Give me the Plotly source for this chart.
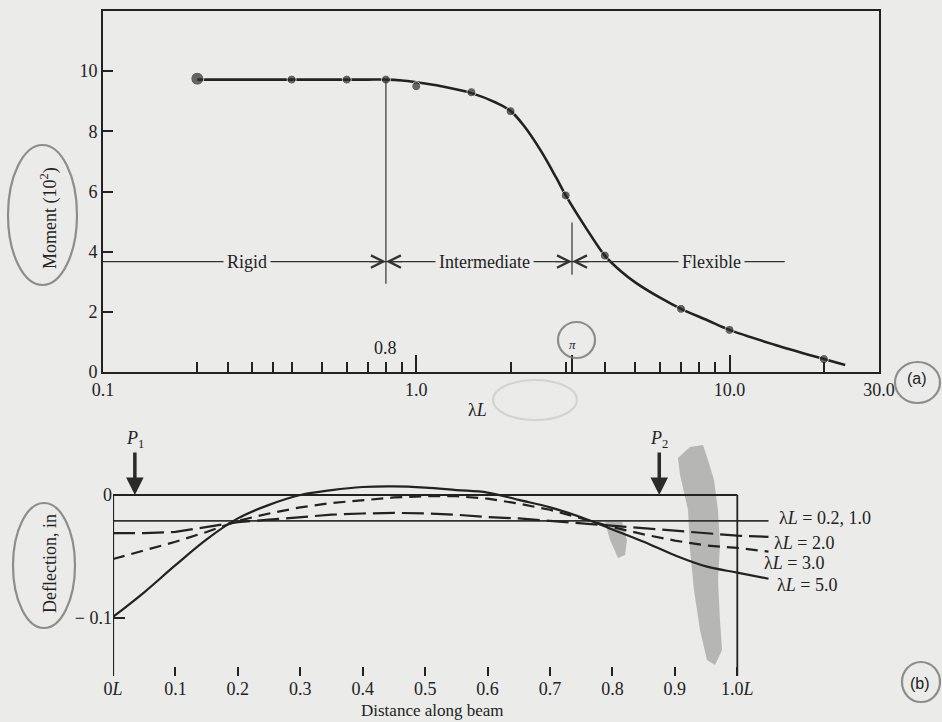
import numpy as np
import plotly.graph_objects as go

# ---------------- data: panel (a) ----------------
curve_lambdaL = [0.2, 0.3, 0.4, 0.5, 0.6, 0.7, 0.8, 0.9, 1.0, 1.2, 1.5, 1.8, 2.0, 2.2, 2.5,
                 2.8, 3.0, 3.5, 4.0, 4.5, 5.0, 6.0, 7.0, 8.5, 10.0, 14.0, 20.0, 23.4]
curve_moment = [9.72, 9.72, 9.72, 9.72, 9.72, 9.72, 9.72, 9.69, 9.63, 9.5, 9.27, 8.95, 8.68, 8.2, 7.35,
                6.45, 5.87, 4.75, 3.87, 3.35, 2.98, 2.47, 2.1, 1.72, 1.4, 0.9, 0.43, 0.23]
point_lambdaL = [0.2, 0.4, 0.6, 0.8, 1.0, 1.5, 2.0, 3.0, 4.0, 7.0, 10.0, 20.0]
point_moment = [9.75, 9.72, 9.72, 9.72, 9.5, 9.3, 8.67, 5.87, 3.87, 2.1, 1.4, 0.43]
zone_names = ["Rigid", "Intermediate", "Flexible"]
zone_label_x = [0.288, 1.65, 8.75]
zone_bounds = [0.8, np.pi]
zone_line_level = 3.67
zone_line_ends = [0.1, 15.0]
bound_top = [9.72, 4.97]
bound_bottom = [2.93, 3.23]
top_major_ticks = [0.1, 1.0, np.pi, 10.0, 30.0]
top_major_text = ["0.1", "1.0", "", "10.0", "30.0"]
top_minor_ticks = [0.2, 0.25, 0.3, 0.35, 0.4, 0.5, 0.6, 0.7, 0.8, 0.9,
                   2, 3, 4, 5, 6, 7, 8, 9, 20]
moment_ticks = [0, 2, 4, 6, 8, 10]

# ---------------- data: panel (b) ----------------
beam_x = [0, 0.05, 0.1, 0.15, 0.2, 0.25, 0.3, 0.35, 0.4, 0.45, 0.5, 0.55,
          0.6, 0.65, 0.7, 0.75, 0.8, 0.85, 0.9, 0.95, 1.0, 1.05]
defl_02_10 = [-0.021] * 22
defl_20 = [-0.031, -0.031, -0.030, -0.026, -0.022, -0.020, -0.018, -0.016, -0.015, -0.0145, -0.015, -0.016,
           -0.018, -0.019, -0.021, -0.023, -0.025, -0.027, -0.029, -0.031, -0.033, -0.034]
defl_30 = [-0.052, -0.045, -0.038, -0.030, -0.021, -0.015, -0.010, -0.0065, -0.004, -0.002, -0.001, -0.001,
           -0.003, -0.007, -0.012, -0.019, -0.026, -0.032, -0.037, -0.041, -0.043, -0.046]
defl_50 = [-0.099, -0.079, -0.057, -0.036, -0.019, -0.008, 0.0, 0.004, 0.0065, 0.007, 0.006, 0.004,
           0.002, -0.004, -0.010, -0.018, -0.028, -0.038, -0.049, -0.058, -0.063, -0.068]
series_labels = ["λ<i>L</i> = 0.2, 1.0", "λ<i>L</i> = 2.0", "λ<i>L</i> = 3.0", "λ<i>L</i> = 5.0"]
beam_ticks = [0, 0.1, 0.2, 0.3, 0.4, 0.5, 0.6, 0.7, 0.8, 0.9, 1.0]
beam_tick_text = ["0<i>L</i>", "0.1", "0.2", "0.3", "0.4", "0.5", "0.6", "0.7", "0.8", "0.9", "1.0<i>L</i>"]
defl_ticks = [0, -0.1]
defl_tick_text = ["0", "− 0.1"]
load_pos = [0.035, 0.875]
load_names = ["<i>P</i><sub>1</sub>", "<i>P</i><sub>2</sub>"]

# ---------------- styling ----------------
W, H = 942, 722
BG = "#ebebe9"
INK = "#222222"
PENCIL = "rgba(125,125,125,0.85)"
SERIF = "Liberation Serif"


def px(x):
    return x / W


def py(y):
    return 1 - y / H


fig = go.Figure()

# panel (a)
fig.add_trace(go.Scatter(x=curve_lambdaL, y=curve_moment, mode="lines", line=dict(color=INK, width=2.6, shape="spline"),
                         xaxis="x", yaxis="y", hoverinfo="skip"))
fig.add_trace(go.Scatter(x=point_lambdaL, y=point_moment, mode="markers",
                         marker=dict(color="#2b2b2b", size=[13] + [9] * (len(point_lambdaL) - 1)),
                         xaxis="x", yaxis="y", hoverinfo="skip"))
fig.add_trace(go.Scatter(x=zone_line_ends, y=[zone_line_level] * 2, mode="lines",
                         line=dict(color="#333333", width=1.2), xaxis="x", yaxis="y", hoverinfo="skip"))
for b, t0, t1 in zip(zone_bounds, bound_top, bound_bottom):
    fig.add_trace(go.Scatter(x=[b, b], y=[t0, t1], mode="lines", line=dict(color="#333333", width=1.2),
                             xaxis="x", yaxis="y", hoverinfo="skip"))

# panel (b)
fig.add_trace(go.Scatter(x=beam_x, y=defl_02_10, mode="lines", line=dict(color="#333333", width=1.6),
                         xaxis="x2", yaxis="y2", hoverinfo="skip"))
fig.add_trace(go.Scatter(x=beam_x, y=defl_20, mode="lines", line=dict(color=INK, width=2.2, dash="22px,7px"),
                         xaxis="x2", yaxis="y2", hoverinfo="skip"))
fig.add_trace(go.Scatter(x=beam_x, y=defl_30, mode="lines", line=dict(color=INK, width=2.2, dash="12px,7px"),
                         xaxis="x2", yaxis="y2", hoverinfo="skip"))
fig.add_trace(go.Scatter(x=beam_x, y=defl_50, mode="lines", line=dict(color=INK, width=2.2, shape="spline"),
                         xaxis="x2", yaxis="y2", hoverinfo="skip"))

ann = []
tick_font = dict(family=SERIF, size=18, color=INK)


def paper_text(x, y, text, size=18, family=SERIF, angle=0, xanchor="center"):
    return dict(x=px(x), y=py(y), xref="paper", yref="paper", text=text, showarrow=False,
                xanchor=xanchor, yanchor="middle", textangle=angle,
                font=dict(family=family, size=size, color=INK))


# zone labels with background masking the line
for name, xv in zip(zone_names, zone_label_x):
    ann.append(dict(x=np.log10(xv), y=zone_line_level, xref="x", yref="y", text=name, showarrow=False,
                    xanchor="center", yanchor="middle",
                    font=dict(family=SERIF, size=18, color=INK), bgcolor=BG, borderpad=3))
# arrows meeting at the zone boundaries
for b in zone_bounds:
    for d in (-18, 18):
        ann.append(dict(x=np.log10(b), y=zone_line_level, xref="x", yref="y", text="", showarrow=True,
                        ax=d, ay=0, arrowhead=5, arrowsize=2.2, arrowwidth=1.1, arrowcolor="#333333"))
ann.append(dict(x=np.log10(0.8), y=0.8, xref="x", yref="y", text="0.8", showarrow=False, font=tick_font,
                xanchor="center", yanchor="middle"))
ann.append(dict(x=np.log10(np.pi), y=0.9, xref="x", yref="y", text="<i>π</i>", showarrow=False,
                xanchor="center", yanchor="middle", font=dict(family=SERIF, size=13, color=INK)))
ann.append(paper_text(477, 410, "λ<i>L</i>"))
ann.append(paper_text(49, 218, "Moment (10<sup>2</sup>)", angle=-90))
ann.append(paper_text(917, 378, "(a)", size=16, family="Liberation Sans"))
ann.append(paper_text(920, 683, "(b)", size=16, family="Liberation Sans"))

# panel (b) labels
ann.append(paper_text(50, 564, "Deflection, in", angle=-90))
ann.append(paper_text(432, 710, "Distance along beam", size=17))
label_px = [(777, 518), (772, 543), (762, 563), (775, 585)]
for t, (lx, ly) in zip(series_labels, label_px):
    ann.append(paper_text(lx, ly, t, xanchor="left"))
for p, name in zip(load_pos, load_names):
    ann.append(dict(x=p, y=0, xref="x2", yref="y2", text="", showarrow=True, ax=0, ay=-44,
                    arrowhead=2, arrowsize=1, arrowwidth=3.5, arrowcolor="#2a2a2a"))
    ann.append(dict(x=p, y=py(440), xref="x2", yref="paper", text=name, showarrow=False,
                    xanchor="center", yanchor="middle", font=dict(family=SERIF, size=18, color=INK)))

shapes = []
# panel (b) box lines (top, left, right)
shapes.append(dict(type="line", xref="x2", yref="y2", x0=0, x1=1.0, y0=0, y1=0, line=dict(color=INK, width=2)))
shapes.append(dict(type="line", xref="x2", yref="y2", x0=0, x1=0, y0=0, y1=-0.147, line=dict(color=INK, width=2.2)))
shapes.append(dict(type="line", xref="x2", yref="y2", x0=1.0, x1=1.0, y0=0, y1=-0.147, line=dict(color=INK, width=1.8)))


def ellipse(x0, y0, x1, y1, op=1.0, w=2.2):
    return dict(type="circle", xref="paper", yref="paper", x0=px(x0), x1=px(x1), y0=py(y1), y1=py(y0),
                line=dict(color=PENCIL, width=w), opacity=op, layer="above")


shapes += [ellipse(8, 145, 77, 285), ellipse(13, 503, 75, 628), ellipse(558, 322, 595, 358),
           ellipse(895, 362, 940, 403), ellipse(902, 662, 940, 702), ellipse(493, 380, 577, 420, op=0.25)]


def poly(points):
    return "M " + " L ".join(f"{px(x):.4f},{py(y):.4f}" for x, y in points) + " Z"


stain = [(690, 447), (703, 445), (708, 460), (714, 480), (718, 510), (720, 545), (718, 580), (720, 620),
         (722, 650), (715, 665), (707, 660), (700, 630), (694, 590), (690, 550), (688, 510), (680, 475), (678, 458)]
smear = [(605, 522), (622, 522), (627, 540), (625, 555), (618, 558), (610, 540)]
for pth in (stain, smear):
    shapes.append(dict(type="path", xref="paper", yref="paper", path=poly(pth),
                       fillcolor="rgba(110,110,110,0.42)", line=dict(width=0), layer="below"))

axis_common = dict(showgrid=False, zeroline=False, tickfont=tick_font, tickcolor=INK, automargin=False)

fig.update_layout(
    width=W, height=H, margin=dict(l=0, r=0, t=0, b=0, pad=0, autoexpand=False),
    paper_bgcolor=BG, plot_bgcolor=BG, showlegend=False,
    xaxis=dict(domain=[px(103), px(879)], anchor="y", type="log", range=[-1, np.log10(30)],
               showline=True, linecolor=INK, linewidth=2, mirror=True,
               tickmode="array", tickvals=top_major_ticks, ticktext=top_major_text,
               ticks="inside", ticklen=17, tickwidth=1.5,
               minor=dict(tickmode="array", tickvals=top_minor_ticks, ticks="inside", ticklen=10,
                          tickwidth=1.5, tickcolor=INK, showgrid=False),
               **axis_common),
    yaxis=dict(domain=[py(372), py(11)], anchor="x", range=[0, 12], showline=True, linecolor=INK, linewidth=2,
               mirror=True, tickmode="array", tickvals=moment_ticks, ticks="inside", ticklen=10, tickwidth=1.5,
               **axis_common),
    xaxis2=dict(domain=[px(113), px(781)], anchor="y2", range=[0, 1.07], showline=False,
                tickmode="array", tickvals=beam_ticks, ticktext=beam_tick_text,
                ticks="inside", ticklen=9, tickwidth=1.5, **axis_common),
    yaxis2=dict(domain=[py(676), py(479)], anchor="x2", range=[-0.147, 0.013], showline=False,
                tickmode="array", tickvals=defl_ticks, ticktext=defl_tick_text,
                ticks="inside", ticklen=12, tickwidth=1.5, **axis_common),
    xaxis3=dict(domain=[px(113), px(781)], overlaying="x2", anchor="free", position=py(495), side="top",
                range=[0, 1.07], showline=False, tickmode="array", tickvals=beam_ticks[1:-1],
                ticks="inside", ticklen=10, tickwidth=1.5, showticklabels=False, showgrid=False,
                zeroline=False, tickcolor=INK, automargin=False),
    annotations=ann, shapes=shapes,
)

# remove the page's default body margin so the figure fills the window like the reference
page_css = ("document.body.style.margin='0px';"
            "document.body.style.background='" + BG + "';")
fig.write_html("out.html", post_script=page_css, config={"displayModeBar": False})
